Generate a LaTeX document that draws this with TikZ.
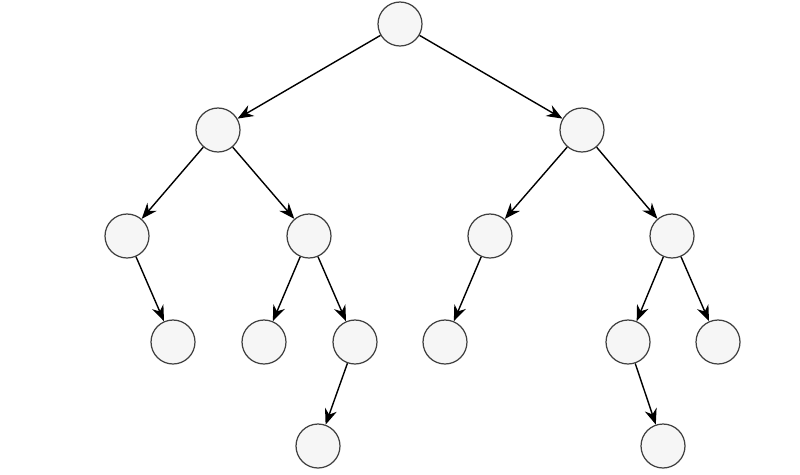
\documentclass[tikz,border=0pt]{standalone}
\usetikzlibrary{arrows.meta}
\begin{document}
\begin{tikzpicture}[x=0.02cm,y=-0.02cm,
  n/.style={circle,draw=black!75,fill=cyan!4!gray!8,line width=0.7pt,minimum size=0.88cm,inner sep=0pt},
  e/.style={-{Stealth[length=9pt,width=7pt]},line width=0.8pt}]
\useasboundingbox (0,0) rectangle (800,474);
\node[n] (a) at (400,24) {};
\node[n] (b) at (218,130) {};
\node[n] (c) at (582,130) {};
\node[n] (d) at (127,236) {};
\node[n] (f) at (309,236) {};
\node[n] (g) at (490,236) {};
\node[n] (h) at (672,236) {};
\node[n] (i) at (173,342) {};
\node[n] (j) at (264,342) {};
\node[n] (k) at (355,342) {};
\node[n] (l) at (445,342) {};
\node[n] (m) at (628,342) {};
\node[n] (o) at (718,342) {};
\node[n] (p) at (318,446) {};
\node[n] (q) at (663,446) {};
\foreach \u/\v in {a/b,a/c,b/d,b/f,c/g,c/h,d/i,f/j,f/k,g/l,h/m,h/o,k/p,m/q}
  \draw[e] (\u) -- (\v);
\end{tikzpicture}
\end{document}
